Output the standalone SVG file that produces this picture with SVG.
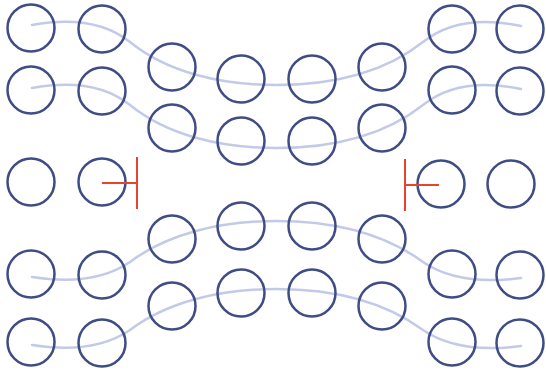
<svg xmlns="http://www.w3.org/2000/svg" width="546" height="374" viewBox="0 0 546 374">
<style>
.n{fill:none;stroke:#3f4c85;stroke-width:2.5}
.c{fill:none;stroke:#c3cae8;stroke-width:2.5;stroke-linecap:round}
.r{fill:none;stroke:#e8432e;stroke-width:2}
</style>
<rect width="546" height="374" fill="#ffffff"/>
<g id="connectors">
<path class="c" d="M32,25 C70,18 105,22 130,42 C167,72 220,85 276,85 C333,85 385,72 423,42 C448,22 483,18 521,26"/>
<path class="c" d="M32,88 C70,81 105,85 130,105 C167,135 220,148 276,148 C333,148 385,135 423,105 C448,85 483,81 521,89"/>
<path class="c" d="M32,277 C70,283 105,279 130,262 C167,234 220,221 276,221 C333,221 385,234 423,262 C448,279 483,283 521,278"/>
<path class="c" d="M32,345 C70,351 105,347 130,330 C167,302 220,289 276,289 C333,289 385,302 423,330 C448,347 483,351 521,346"/>
</g>
<g id="row1">
<circle id="n1a" class="n" cx="31" cy="28" r="23.5"/>
<circle id="n1b" class="n" cx="102" cy="29" r="23.5"/>
<circle id="n1c" class="n" cx="172" cy="67" r="23.5"/>
<circle id="n1d" class="n" cx="241" cy="79" r="23.5"/>
<circle id="n1e" class="n" cx="312" cy="79" r="23.5"/>
<circle id="n1f" class="n" cx="382" cy="67" r="23.5"/>
<circle id="n1g" class="n" cx="452" cy="29" r="23.5"/>
<circle id="n1h" class="n" cx="520" cy="29" r="23.5"/>
</g>
<g id="row2">
<circle id="n2a" class="n" cx="31" cy="90" r="23.5"/>
<circle id="n2b" class="n" cx="102" cy="91" r="23.5"/>
<circle id="n2c" class="n" cx="172" cy="128" r="23.5"/>
<circle id="n2d" class="n" cx="241" cy="141" r="23.5"/>
<circle id="n2e" class="n" cx="312" cy="141" r="23.5"/>
<circle id="n2f" class="n" cx="382" cy="128" r="23.5"/>
<circle id="n2g" class="n" cx="452" cy="90" r="23.5"/>
<circle id="n2h" class="n" cx="520" cy="91" r="23.5"/>
</g>
<g id="row3">
<circle id="n3a" class="n" cx="31" cy="182" r="23.5"/>
<circle id="n3b" class="n" cx="102" cy="182" r="23.5"/>
<circle id="n3g" class="n" cx="441" cy="184" r="23.5"/>
<circle id="n3h" class="n" cx="511" cy="184" r="23.5"/>
</g>
<g id="row4">
<circle id="n4a" class="n" cx="31" cy="274" r="23.5"/>
<circle id="n4b" class="n" cx="102" cy="275" r="23.5"/>
<circle id="n4c" class="n" cx="172" cy="239" r="23.5"/>
<circle id="n4d" class="n" cx="241" cy="226" r="23.5"/>
<circle id="n4e" class="n" cx="312" cy="226" r="23.5"/>
<circle id="n4f" class="n" cx="382" cy="239" r="23.5"/>
<circle id="n4g" class="n" cx="452" cy="274" r="23.5"/>
<circle id="n4h" class="n" cx="520" cy="275" r="23.5"/>
</g>
<g id="row5">
<circle id="n5a" class="n" cx="31" cy="342" r="23.5"/>
<circle id="n5b" class="n" cx="102" cy="343" r="23.5"/>
<circle id="n5c" class="n" cx="172" cy="306" r="23.5"/>
<circle id="n5d" class="n" cx="241" cy="293" r="23.5"/>
<circle id="n5e" class="n" cx="312" cy="293" r="23.5"/>
<circle id="n5f" class="n" cx="382" cy="306" r="23.5"/>
<circle id="n5g" class="n" cx="452" cy="342" r="23.5"/>
<circle id="n5h" class="n" cx="520" cy="343" r="23.5"/>
</g>
<g id="blockers">
<path class="r" d="M102,183 H137 M137,157 V209"/>
<path class="r" d="M439,185 H405 M405,159 V211"/>
</g>
</svg>
